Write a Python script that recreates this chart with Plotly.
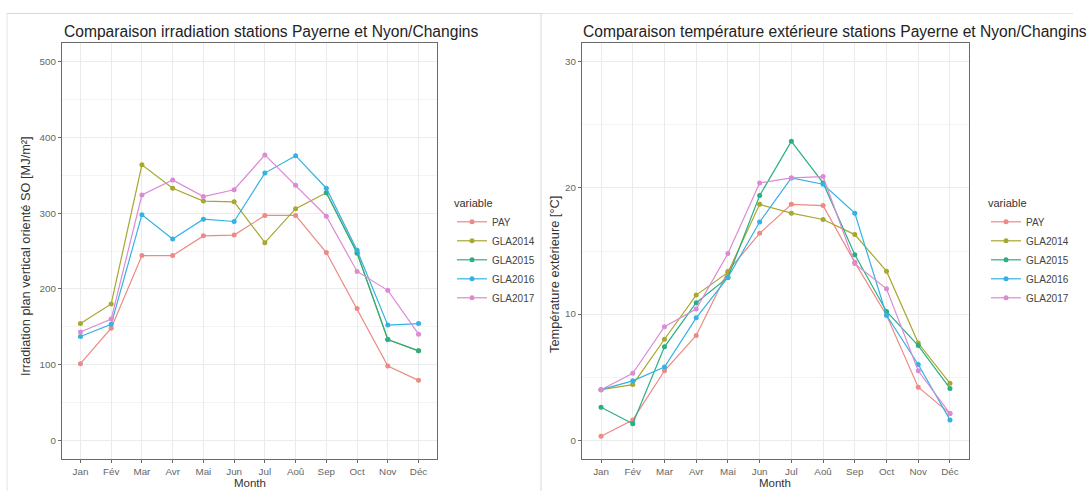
import plotly.graph_objects as go

months = ["Jan", "Fév", "Mar", "Avr", "Mai", "Jun", "Jul", "Aoû", "Sep", "Oct", "Nov", "Déc"]
series_names = ["PAY", "GLA2014", "GLA2015", "GLA2016", "GLA2017"]
colors = ["#EC8A85", "#A8A72E", "#2AAE86", "#33B2E3", "#DC8AD4"]

# Irradiation plan vertical orienté SO [MJ/m²]
irr_pay = [101, 148, 244, 244, 270, 271, 297, 297, 248, 174, 98, 79]
irr_gla2014 = [154, 180, 364, 333, 316, 315, 261, 306, 327, 248, 133, 118]
irr_gla2015 = [None, None, None, None, None, None, None, None, 327, 247, 133, 118]
irr_gla2016 = [137, 153, 298, 266, 292, 289, 353, 376, 333, 251, 152, 154]
irr_gla2017 = [143, 160, 324, 344, 322, 331, 377, 337, 296, 223, 198, 140]

# Température extérieure [°C]
tmp_pay = [0.3, 1.6, 5.5, 8.3, 13.4, 16.4, 18.7, 18.6, 14.1, 9.9, 4.2, 2.1]
tmp_gla2014 = [4.0, 4.4, 8.0, 11.5, 13.3, 18.7, 18.0, 17.5, 16.3, 13.4, 7.7, 4.5]
tmp_gla2015 = [2.6, 1.3, 7.4, 10.9, 12.9, 19.4, 23.7, 20.4, 14.7, 10.2, 7.5, 4.1]
tmp_gla2016 = [4.0, 4.7, 5.8, 9.7, 12.9, 17.3, 20.8, 20.3, 18.0, 9.9, 6.0, 1.6]
tmp_gla2017 = [4.0, 5.3, 9.0, 10.4, 14.8, 20.4, 20.8, 20.9, 14.0, 12.0, 5.5, 2.1]

irr_series = [irr_pay, irr_gla2014, irr_gla2015, irr_gla2016, irr_gla2017]
tmp_series = [tmp_pay, tmp_gla2014, tmp_gla2015, tmp_gla2016, tmp_gla2017]

W, H = 1089, 491
def px(x):
    return x / W
def py(y):
    return 1 - y / H

fig = go.Figure()
for name, vals, col in zip(series_names, irr_series, colors):
    fig.add_trace(go.Scatter(x=months, y=vals, name=name, mode="lines+markers",
                             line=dict(color=col, width=1.2), marker=dict(color=col, size=5),
                             xaxis="x", yaxis="y", legend="legend", connectgaps=False))
for name, vals, col in zip(series_names, tmp_series, colors):
    fig.add_trace(go.Scatter(x=months, y=vals, name=name, mode="lines+markers",
                             line=dict(color=col, width=1.2), marker=dict(color=col, size=5),
                             xaxis="x2", yaxis="y2", legend="legend2"))

font_fam = "Liberation Sans, Arial, sans-serif"
axis_common = dict(showline=True, mirror=True, linecolor="#6a6a6a", linewidth=1.2,
                   ticks="outside", ticklen=3, tickcolor="#6a6a6a",
                   tickfont=dict(size=9.8, color="#666", family=font_fam),
                   gridcolor="#ebebeb", gridwidth=1, zeroline=False)

fig.update_layout(
    width=W, height=H, margin=dict(l=0, r=0, t=0, b=0),
    paper_bgcolor="white", plot_bgcolor="white",
    font=dict(family=font_fam),
    xaxis=dict(domain=[px(62), px(437)], anchor="y", type="category",
               categoryorder="array", categoryarray=months, range=[-0.6, 11.6], **axis_common),
    yaxis=dict(domain=[py(459), py(43)], anchor="x", range=[-25, 525],
               tickvals=[0, 100, 200, 300, 400, 500],
               minor=dict(tickvals=[50, 150, 250, 350, 450], showgrid=True, gridcolor="#f3f3f3", ticks=""),
               **axis_common),
    xaxis2=dict(domain=[px(582), px(969)], anchor="y2", type="category",
                categoryorder="array", categoryarray=months, range=[-0.6, 11.6], **axis_common),
    yaxis2=dict(domain=[py(459), py(43)], anchor="x2", range=[-1.5, 31.5],
                tickvals=[0, 10, 20, 30],
                minor=dict(tickvals=[5, 15, 25], showgrid=True, gridcolor="#f3f3f3", ticks=""),
                **axis_common),
    legend=dict(x=px(452), y=py(193), xanchor="left", yanchor="top",
                title=dict(text="variable", font=dict(size=11, color="#333")),
                font=dict(size=10, color="#444"), tracegroupgap=0, itemwidth=30,
                bgcolor="rgba(0,0,0,0)"),
    legend2=dict(x=px(986), y=py(193), xanchor="left", yanchor="top",
                 title=dict(text="variable", font=dict(size=11, color="#333")),
                 font=dict(size=10, color="#444"), tracegroupgap=0, itemwidth=30,
                 bgcolor="rgba(0,0,0,0)"),
    showlegend=True,
)

annots = [
    dict(text="Comparaison irradiation stations Payerne et Nyon/Changins", x=px(62), y=py(31),
         xanchor="left", yanchor="middle", font=dict(size=15.6, color="#222")),
    dict(text="Comparaison température extérieure stations Payerne et Nyon/Changins", x=px(581), y=py(31),
         xanchor="left", yanchor="middle", font=dict(size=15.6, color="#222")),
    dict(text="Irradiation plan vertical orienté SO [MJ/m²]", x=px(26), y=py(256), textangle=-90,
         xanchor="center", yanchor="middle", font=dict(size=12.8, color="#333")),
    dict(text="Température extérieure [°C]", x=px(554), y=py(275), textangle=-90,
         xanchor="center", yanchor="middle", font=dict(size=12.8, color="#333")),
    dict(text="Month", x=px(250), y=0, xanchor="center", yanchor="bottom",
         font=dict(size=11.5, color="#333")),
    dict(text="Month", x=px(775), y=0, xanchor="center", yanchor="bottom",
         font=dict(size=11.5, color="#333")),
]
for a in annots:
    a.update(xref="paper", yref="paper", showarrow=False)
fig.update_layout(annotations=annots)

fig.update_layout(shapes=[
    dict(type="line", xref="paper", yref="paper", x0=px(7), x1=px(541), y0=py(13.5), y1=py(13.5),
         line=dict(color="#d8d8d8", width=1)),
    dict(type="line", xref="paper", yref="paper", x0=px(541), x1=px(1073), y0=py(13.5), y1=py(13.5),
         line=dict(color="#e4e4e4", width=1)),
    dict(type="line", xref="paper", yref="paper", x0=px(541), x1=px(541), y0=py(13.5), y1=0,
         line=dict(color="#d8d8d8", width=1)),
    dict(type="line", xref="paper", yref="paper", x0=px(7), x1=px(7), y0=py(13.5), y1=0,
         line=dict(color="#e4e4e4", width=1)),
])

fig.write_html("out.html")
